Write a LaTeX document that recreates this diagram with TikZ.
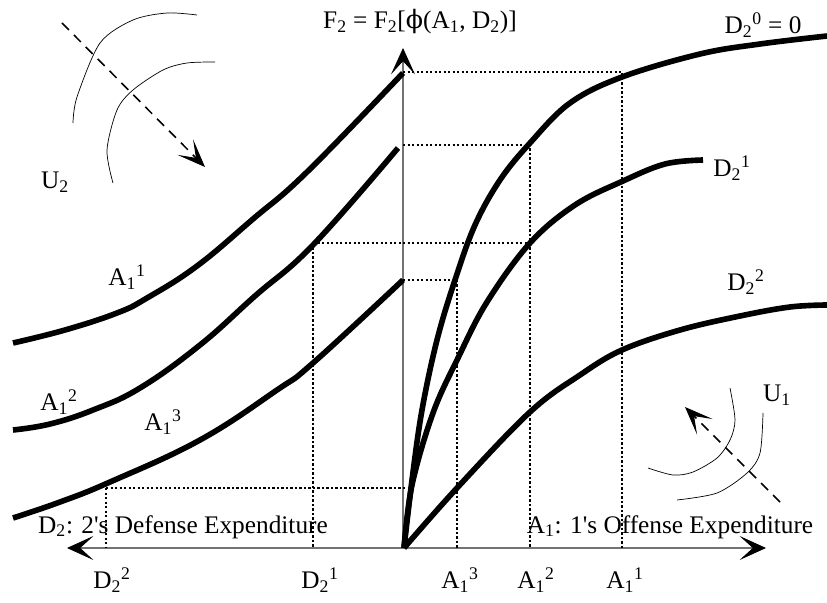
\documentclass[tikz,border=0pt]{standalone}
\usepackage{fontspec}
\setmainfont{Liberation Serif}
\newfontfamily\greekfont{DejaVu Serif}
\usetikzlibrary{arrows.meta}
\tikzset{
  axistip/.tip={Stealth[length=6.6mm,width=6mm,inset=3.3mm,line width=0.6pt,black]},
  axisline/.style={draw=black!55,line width=0.8pt,axistip-axistip},
  upaxis/.style={draw=black!55,line width=0.8pt,-axistip},
  curve/.style={line width=4pt,line join=round},
  guide/.style={line width=1.5pt,dash pattern=on 1.5pt off 1.7pt},
  indiff/.style={line width=0.5pt},
  shiftarrow/.style={line width=1.1pt,dash pattern=on 7pt off 5pt,
    -{Stealth[length=7mm,width=5.5mm,inset=3.8mm,line width=0.6pt]}},
  lbl/.style={font=\fontsize{18}{20}\selectfont,inner sep=0pt}
}
\begin{document}
\begin{tikzpicture}[x=0.025cm,y=-0.025cm]
\useasboundingbox (0,0) rectangle (827,603);

% axes
\coordinate (O) at (404,548);
\coordinate (ytop) at (403,48);
\coordinate (xleft) at (67,548);
\coordinate (xright) at (766,548);
\draw[axisline] (xleft)--(xright);
\draw[upaxis] (403,548)--(ytop);

% guide points
\coordinate (g1) at (403,72);  \coordinate (g1r) at (622,72);
\coordinate (g2) at (403,145); \coordinate (g2r) at (530,145);
\coordinate (g3l) at (313,243); \coordinate (g3r) at (530,243);
\coordinate (g4) at (403,280); \coordinate (g4r) at (457,280);
\coordinate (g5l) at (106,488); \coordinate (g5r) at (405,488);

\draw[guide] (g1)--(g1r)--(622,548);
\draw[guide] (g2)--(g2r)--(530,548);
\draw[guide] (g3l)--(g3r);
\draw[guide] (g3l)--(313,548);
\draw[guide] (g4)--(g4r)--(457,548);
\draw[guide] (g5l)--(g5r);
\draw[guide] (g5l)--(106,548);

% left curves, one per A_1
\draw[curve] plot[smooth,tension=0.7] coordinates {(13,343) (65,330) (117,313) (147,298)
  (197,266) (253,219) (307,172) (403,73)};
\draw[curve] plot[smooth,tension=0.7] coordinates {(13,430) (50,424) (93,410) (140,388)
  (200,345) (255,296) (313,245) (398,148)};
\draw[curve] plot[smooth,tension=0.7] coordinates {(13,518) (60,502) (110,482) (200,440)
  (277,390) (313,363) (403,280)};

% right curves, one per D_2
\draw[curve] plot[smooth,tension=0.6] coordinates {(O) (412,480) (422,410) (437,340)
  (455,280) (475,225) (500,180) (530,143) (570,103) (622,77) (700,54) (760,44) (827,36)};
\draw[curve] plot[smooth,tension=0.6] coordinates {(O) (412,485) (433,413) (458,358)
  (487,302) (530,243) (575,205) (623,181) (665,164) (703,160)};
\draw[curve] plot[smooth,tension=0.6] coordinates {(O) (457,488) (530,412)
  (580,375) (622,350) (680,330) (740,316) (790,307) (827,305)};

% indifference curves
\draw[indiff] plot[smooth] coordinates {(73,123) (77,97) (100,43) (133,20) (167,13) (197,15)};
\draw[indiff] plot[smooth] coordinates {(113,183) (107,150) (117,110) (133,90) (163,70)
  (187,63) (215,62)};
\draw[indiff] plot[smooth] coordinates {(763,413) (760,453) (747,473) (717,493) (677,500)};
\draw[indiff] plot[smooth] coordinates {(730,388) (735,420) (730,440) (717,458) (693,472)
  (673,475) (648,468)};

\coordinate (u2a) at (62,23);  \coordinate (u2b) at (205,167);
\coordinate (u1a) at (780,502); \coordinate (u1b) at (685,407);
\draw[shiftarrow] (u2a)--(u2b);
\draw[shiftarrow] (u1a)--(u1b);

% labels
\node[lbl] (ftitle) at (420,22) {F\textsubscript{2} = F\textsubscript{2}[{\greekfont ϕ}(A\textsubscript{1}, D\textsubscript{2})]};
\node[lbl] (d20) at (763,25) {D\textsubscript{2}\textsuperscript{0} = 0};
\node[lbl] (d21) at (732,168) {D\textsubscript{2}\textsuperscript{1}};
\node[lbl] (d22) at (746,282) {D\textsubscript{2}\textsuperscript{2}};
\node[lbl] (u2) at (55,182) {U\textsubscript{2}};
\node[lbl] (u1) at (777,395) {U\textsubscript{1}};
\node[lbl] (a11) at (127,277) {A\textsubscript{1}\textsuperscript{1}};
\node[lbl] (a12) at (59,402) {A\textsubscript{1}\textsuperscript{2}};
\node[lbl] (a13) at (163,422) {A\textsubscript{1}\textsuperscript{3}};
\node[lbl] (dlab) at (183,527) {D\textsubscript{2}: 2\textquotesingle s Defense Expenditure};
\node[lbl] (alab) at (670,527) {A\textsubscript{1}: 1\textquotesingle s Offense Expenditure};
\node[lbl] (bd22) at (112,580) {D\textsubscript{2}\textsuperscript{2}};
\node[lbl] (bd21) at (320,580) {D\textsubscript{2}\textsuperscript{1}};
\node[lbl] (ba13) at (460,580) {A\textsubscript{1}\textsuperscript{3}};
\node[lbl] (ba12) at (536,580) {A\textsubscript{1}\textsuperscript{2}};
\node[lbl] (ba11) at (625,580) {A\textsubscript{1}\textsuperscript{1}};
\end{tikzpicture}
\end{document}
